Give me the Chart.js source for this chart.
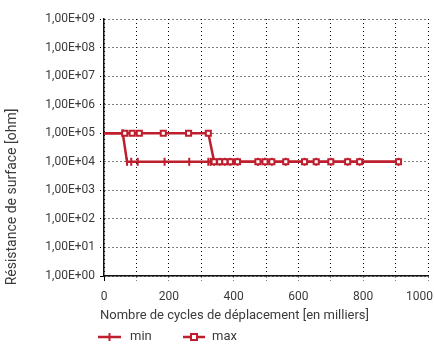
<!DOCTYPE html>
<html>
<head>
<meta charset="utf-8">
<script src="https://cdn.jsdelivr.net/npm/chart.js@4/dist/chart.umd.min.js"></script>
<style>
  html, body { margin: 0; padding: 0; background: #fff; }
  #wrap { width: 434px; height: 344px; position: relative; }
</style>
</head>
<body>
<div id="wrap"><canvas id="c" width="434" height="344"></canvas></div>
<script>
// Displacement cycles (thousands) and surface resistance (ohm)
const cyclesMin = [0, 58, 71, 84, 104, 187, 263, 322, 329, 340, 357, 373, 390, 412, 475, 497, 518, 561, 619, 655, 700, 752, 789, 909];
const resistMin = [1e5, 1e5, 1e4, 1e4, 1e4, 1e4, 1e4, 1e4, 1e4, 1e4, 1e4, 1e4, 1e4, 1e4, 1e4, 1e4, 1e4, 1e4, 1e4, 1e4, 1e4, 1e4, 1e4, 1e4];
const cyclesMax = [0, 64, 87, 109, 183, 261, 322, 340, 357, 373, 390, 412, 475, 497, 518, 561, 619, 655, 700, 752, 789, 909];
const resistMax = [1e5, 1e5, 1e5, 1e5, 1e5, 1e5, 1e5, 1e4, 1e4, 1e4, 1e4, 1e4, 1e4, 1e4, 1e4, 1e4, 1e4, 1e4, 1e4, 1e4, 1e4, 1e4];
const seriesNames = ['min', 'max'];
const xTickLabels = [0, 200, 400, 600, 800, 1000];
const yTickValues = [1, 10, 100, 1e3, 1e4, 1e5, 1e6, 1e7, 1e8, 1e9];
const xTitle = 'Nombre de cycles de déplacement [en milliers]';
const yTitle = 'Résistance de surface [ohm]';

const RED = '#be1e2d';
const TEXT = '#3b3b3b';
const FONT = 'Roboto, "Liberation Sans", sans-serif';
const DOTS = [1, 3];

const toPoints = (xs, ys) => xs.map((x, i) => ({ x: x, y: ys[i] }));
const sci = v => {
  const e = Math.round(Math.log10(v));
  return '1,00E+' + String(e).padStart(2, '0');
};

// Axis labels, titles and legend drawn on top of the chart
const decorations = {
  id: 'decorations',
  afterDraw(chart) {
    const ctx = chart.ctx;
    const xs = chart.scales.x;
    const W = chart.width;
    ctx.save();
    ctx.fillStyle = TEXT;
    ctx.font = '12px ' + FONT;
    ctx.textBaseline = 'middle';
    ctx.textAlign = 'left';
    xTickLabels.forEach(v => {
      const s = String(v);
      const w = ctx.measureText(s).width;
      let left = xs.getPixelForValue(v) - w / 2;
      if (left + w > W - 1) left = W - 1 - w;
      ctx.fillText(s, left, 297);
    });

    ctx.font = '13px ' + FONT;
    ctx.fillText(xTitle, 100, 316);

    ctx.save();
    ctx.translate(12, 197);
    ctx.rotate(-Math.PI / 2);
    ctx.textAlign = 'center';
    ctx.font = '14px ' + FONT;
    ctx.fillText(yTitle, 0, 0);
    ctx.restore();

    // legend
    const ly = 337;
    const items = [
      { x0: 98, x1: 121, text: seriesNames[0], tx: 130, ds: 0 },
      { x0: 183, x1: 205, text: seriesNames[1], tx: 212, ds: 1 }
    ];
    items.forEach(it => {
      ctx.strokeStyle = RED;
      ctx.lineWidth = 2.5;
      ctx.beginPath();
      ctx.moveTo(it.x0, ly);
      ctx.lineTo(it.x1, ly);
      ctx.stroke();
      const cx = (it.x0 + it.x1) / 2;
      if (it.ds === 0) {
        ctx.lineWidth = 2;
        ctx.beginPath();
        ctx.moveTo(cx, ly - 4);
        ctx.lineTo(cx, ly + 4);
        ctx.stroke();
      } else {
        ctx.fillStyle = '#fff';
        ctx.lineWidth = 2;
        ctx.fillRect(cx - 3, ly - 3, 6, 6);
        ctx.strokeRect(cx - 3, ly - 3, 6, 6);
      }
      ctx.fillStyle = TEXT;
      ctx.font = '13px ' + FONT;
      ctx.fillText(it.text, it.tx, ly);
    });
    ctx.restore();
  }
};

new Chart(document.getElementById('c'), {
  type: 'line',
  data: {
    datasets: [
      {
        label: seriesNames[0],
        data: toPoints(cyclesMin, resistMin),
        borderColor: RED,
        backgroundColor: RED,
        borderWidth: 2.5,
        tension: 0,
        pointStyle: 'line',
        rotation: 90,
        pointRadius: ctx => ctx.dataIndex === 0 ? 0 : 4,
        pointBorderWidth: 2,
        pointBorderColor: RED,
        order: 2
      },
      {
        label: seriesNames[1],
        data: toPoints(cyclesMax, resistMax),
        borderColor: RED,
        backgroundColor: '#fff',
        borderWidth: 2.5,
        tension: 0,
        pointStyle: 'rect',
        pointRadius: ctx => ctx.dataIndex === 0 ? 0 : 3.6,
        pointBorderWidth: 2,
        pointBorderColor: RED,
        pointBackgroundColor: '#fff',
        order: 1
      }
    ]
  },
  options: {
    responsive: false,
    animation: false,
    devicePixelRatio: 1,
    layout: { padding: { top: 19, right: 1, bottom: 0, left: 0 } },
    plugins: { legend: { display: false }, tooltip: { enabled: false } },
    scales: {
      x: {
        type: 'linear',
        min: 0,
        max: 1000,
        ticks: { display: false, stepSize: 100 },
        grid: {
          color: '#000',
          lineWidth: 1,
          tickLength: 5,
          tickColor: '#000',
          tickBorderDash: ctx => ctx.index === 0 ? [] : DOTS
        },
        border: { display: true, color: '#111', width: 1.5, dash: DOTS },
        afterFit(s) { s.height = 68; s.paddingLeft = 0; s.paddingRight = 0; }
      },
      y: {
        type: 'logarithmic',
        min: 1,
        max: 1e9,
        afterBuildTicks(s) { s.ticks = yTickValues.map(v => ({ value: v })); },
        ticks: {
          color: TEXT,
          font: { family: FONT, size: 12 },
          padding: 5,
          callback: v => sci(v)
        },
        grid: {
          color: '#000',
          lineWidth: 1,
          tickLength: 4,
          tickColor: '#000',
          tickBorderDash: ctx => ctx.index === 0 ? [] : DOTS
        },
        border: { display: true, color: '#111', width: 1.5, dash: DOTS },
        afterFit(s) { s.width = 104; s.paddingTop = 0; s.paddingBottom = 0; }
      }
    }
  },
  plugins: [decorations]
});
</script>
</body>
</html>
